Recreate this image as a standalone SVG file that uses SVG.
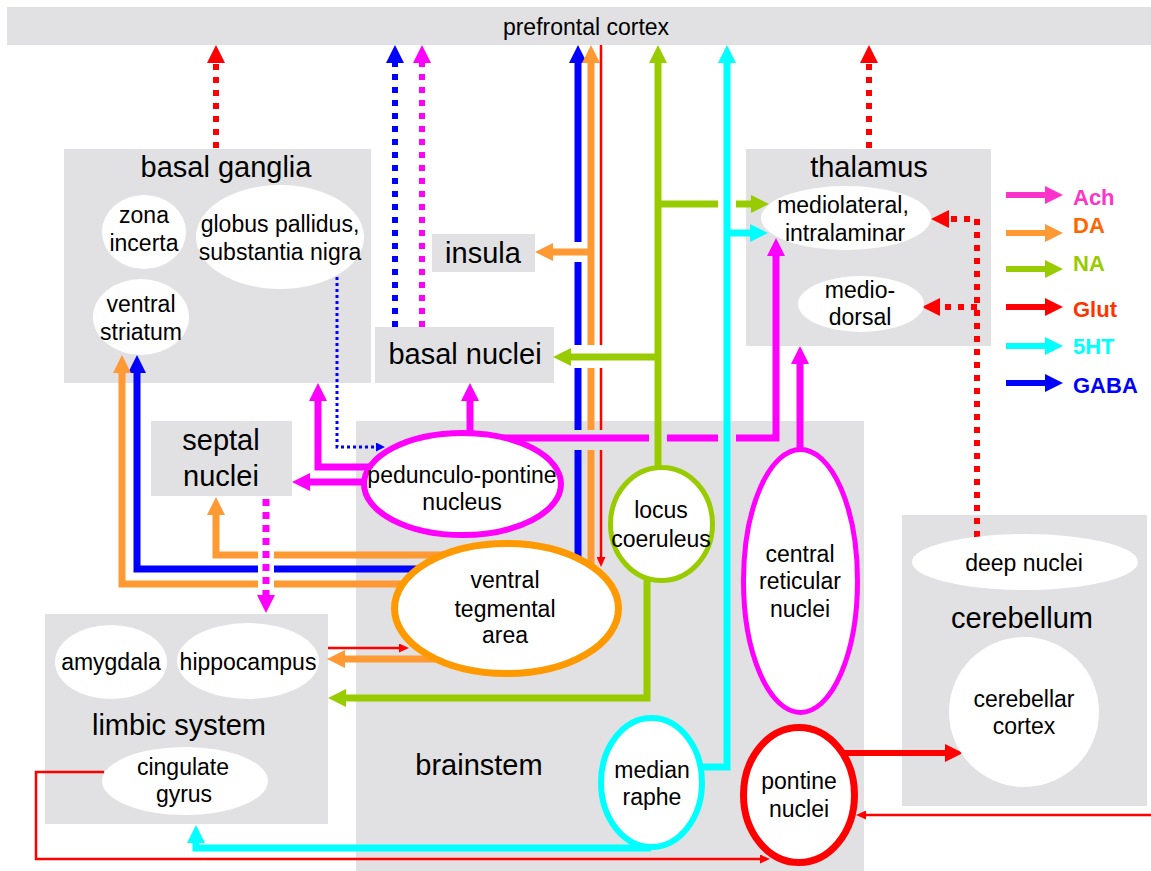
<svg xmlns="http://www.w3.org/2000/svg" width="1151" height="871" viewBox="0 0 1151 871">
<style>
.box{fill:#e1e1e3}
.wn{fill:#fff}
text{font-family:"Liberation Sans",Arial,sans-serif;font-size:23px;text-anchor:middle;fill:#000}
.T{font-size:29px}
.lg{font-weight:bold;font-size:22px;text-anchor:start}
.c{fill:none;stroke-linejoin:miter}
.k{stroke-width:7}
.th{stroke-width:2.5}
.dt{stroke-width:6;stroke-dasharray:6 7}
.m{stroke:#ff00ff}.o{stroke:#ff9933}.g{stroke:#99cc00}.r{stroke:#ff0000}.cy{stroke:#00ffff}.b{stroke:#0000ff}
</style>
<defs>
<marker id="aM" viewBox="0 0 18 18" refX="0" refY="9" markerWidth="18" markerHeight="18" orient="auto" markerUnits="userSpaceOnUse"><path d="M0,0 L18,9 L0,18z" fill="#ff00ff"/></marker>
<marker id="aO" viewBox="0 0 18 18" refX="0" refY="9" markerWidth="18" markerHeight="18" orient="auto" markerUnits="userSpaceOnUse"><path d="M0,0 L18,9 L0,18z" fill="#ff9933"/></marker>
<marker id="aG" viewBox="0 0 18 18" refX="0" refY="9" markerWidth="18" markerHeight="18" orient="auto" markerUnits="userSpaceOnUse"><path d="M0,0 L18,9 L0,18z" fill="#99cc00"/></marker>
<marker id="aR" viewBox="0 0 18 18" refX="0" refY="9" markerWidth="18" markerHeight="18" orient="auto" markerUnits="userSpaceOnUse"><path d="M0,0 L18,9 L0,18z" fill="#ff0000"/></marker>
<marker id="aC" viewBox="0 0 18 18" refX="0" refY="9" markerWidth="18" markerHeight="18" orient="auto" markerUnits="userSpaceOnUse"><path d="M0,0 L18,9 L0,18z" fill="#00ffff"/></marker>
<marker id="aB" viewBox="0 0 18 18" refX="0" refY="9" markerWidth="18" markerHeight="18" orient="auto" markerUnits="userSpaceOnUse"><path d="M0,0 L18,9 L0,18z" fill="#0000ff"/></marker>
<marker id="aP" viewBox="0 0 18 18" refX="0" refY="9" markerWidth="18" markerHeight="18" orient="auto" markerUnits="userSpaceOnUse"><path d="M0,0 L18,9 L0,18z" fill="#ff33cc"/></marker>
<marker id="sR" viewBox="0 0 10 9" refX="0" refY="4.5" markerWidth="10" markerHeight="9" orient="auto" markerUnits="userSpaceOnUse"><path d="M0,0 L10,4.5 L0,9z" fill="#ff0000"/></marker>
<marker id="sB" viewBox="0 0 9 9" refX="0" refY="4.5" markerWidth="9" markerHeight="9" orient="auto" markerUnits="userSpaceOnUse"><path d="M0,0 L9,4.5 L0,9z" fill="#0000ff"/></marker>
</defs>
<rect width="1151" height="871" fill="#fff"/>

<g id="prefrontal-cortex"><rect class="box" x="7" y="7" width="1144" height="38"/><text x="586" y="35">prefrontal cortex</text></g>
<g id="basal-ganglia"><rect class="box" x="64" y="149" width="307" height="234"/><text class="T" x="226" y="177">basal ganglia</text></g>
<g id="insula"><rect class="box" x="432" y="234" width="103" height="38"/><text class="T" x="483" y="263">insula</text></g>
<g id="basal-nuclei"><rect class="box" x="375" y="327" width="179" height="56"/><text class="T" x="465" y="364">basal nuclei</text></g>
<g id="thalamus"><rect class="box" x="746" y="149" width="245" height="197"/><text class="T" x="869" y="177">thalamus</text></g>
<g id="septal-nuclei"><rect class="box" x="151" y="421" width="141" height="75"/><text class="T" x="221" y="450">septal</text><text class="T" x="221" y="486">nuclei</text></g>
<g id="limbic-system"><rect class="box" x="45" y="614" width="283" height="210"/><text class="T" x="179" y="735">limbic system</text></g>
<g id="brainstem"><rect class="box" x="356" y="421" width="508" height="450"/><text class="T" x="479" y="775">brainstem</text></g>
<g id="cerebellum"><rect class="box" x="902" y="515" width="245" height="291"/><text class="T" x="1022" y="628">cerebellum</text></g>

<g id="connectors">
<!-- Glut dotted -->
<path class="c dt r" d="M216,148 L216,63" marker-end="url(#aR)"/>
<path class="c dt r" d="M869,148 L869,63" marker-end="url(#aR)"/>
<path class="c dt r" d="M977,537 L977,219 L949,219" marker-end="url(#aR)"/>
<path class="c dt r" d="M977,307 L940,307" marker-end="url(#aR)"/>
<!-- basal nuclei to PFC dotted -->
<path class="c dt b" d="M395,327 L395,63" marker-end="url(#aB)"/>
<path class="c dt m" d="M422,327 L422,63" marker-end="url(#aM)"/>
<!-- GP to PPN thin dotted -->
<path class="c b" stroke-width="3" stroke-dasharray="3 3" d="M337,277 L337,447 L376,447" marker-end="url(#sB)"/>
<!-- GABA from VTA -->
<path class="c k b" d="M578,450 L578,569 L137,569 L137,373" marker-end="url(#aB)"/>
<path class="c k b" d="M578,430 L578,368"/>
<path class="c k b" d="M578,345 L578,262"/>
<path class="c k b" d="M578,242 L578,63" marker-end="url(#aB)"/>
<!-- DA from VTA -->
<path class="c k o" d="M500,584 L122,584 L122,373" marker-end="url(#aO)"/>
<path class="c k o" d="M470,555 L216,555 L216,515" marker-end="url(#aO)"/>
<path class="c k o" d="M591,575 L591,450"/>
<path class="c k o" d="M591,430 L591,368"/>
<path class="c k o" d="M591,345 L591,63" marker-end="url(#aO)"/>
<path class="c k o" d="M591,252 L553,252" marker-end="url(#aO)"/>
<path class="c k o" d="M450,659 L345,659" marker-end="url(#aO)"/>
<!-- thin Glut -->
<path class="c th r" d="M601,45 L601,345"/>
<path class="c th r" d="M601,368 L601,430"/>
<path class="c th r" d="M601,450 L601,557" marker-end="url(#sR)"/>
<path class="c th r" d="M328,648 L399,648" marker-end="url(#sR)"/>
<path class="c th r" d="M104,772 L36,772 L36,859 L760,859" marker-end="url(#sR)"/>
<path class="c th r" d="M1151,815 L866,815" marker-end="url(#sR)"/>
<path class="c r" stroke-width="6" d="M842,753 L945,753" marker-end="url(#aR)"/>
<!-- NA from locus coeruleus -->
<path class="c k g" d="M658,470 L658,63" marker-end="url(#aG)"/>
<path class="c k g" d="M658,204 L718,204"/>
<path class="c k g" d="M736,204 L751,204" marker-end="url(#aG)"/>
<path class="c k g" d="M658,357 L571,357" marker-end="url(#aG)"/>
<path class="c k g" d="M647,578 L647,698 L346,698" marker-end="url(#aG)"/>
<!-- 5HT from median raphe -->
<path class="c k cy" d="M690,767 L727,767 L727,63" marker-end="url(#aC)"/>
<path class="c k cy" d="M727,233 L750,233" marker-end="url(#aC)"/>
<path class="c k cy" d="M651,848 L196,848 L196,843" marker-end="url(#aC)"/>
<!-- Ach from PPN / reticular -->
<path class="c k m" d="M470,440 L470,401" marker-end="url(#aM)"/>
<path class="c k m" d="M370,482 L310,482" marker-end="url(#aM)"/>
<path class="c k m" d="M375,467 L318,467 L318,401" marker-end="url(#aM)"/>
<path class="c k m" d="M490,438 L649,438"/>
<path class="c k m" d="M667,438 L718,438"/>
<path class="c k m" d="M736,438 L776,438 L776,256" marker-end="url(#aM)"/>
<path class="c k m" d="M800,452 L800,364" marker-end="url(#aM)"/>
<path class="c" stroke="#fff" stroke-width="16" d="M266,499 L266,594"/>
<path class="c m" stroke-width="7" stroke-dasharray="7 6" d="M266,499 L266,595" marker-end="url(#aM)"/>
</g>

<g id="zona-incerta"><ellipse class="wn" cx="144" cy="232" rx="42" ry="37"/><text x="144" y="223">zona</text><text x="144" y="251">incerta</text></g>
<g id="globus-pallidus"><ellipse class="wn" cx="280" cy="237" rx="84" ry="52"/><text x="280" y="232">globus pallidus,</text><text x="280" y="260">substantia nigra</text></g>
<g id="ventral-striatum"><ellipse class="wn" cx="141" cy="317" rx="48" ry="38"/><text x="141" y="312">ventral</text><text x="141" y="340">striatum</text></g>
<g id="mediolateral"><ellipse class="wn" cx="846" cy="218" rx="85" ry="32"/><text x="843" y="213">mediolateral,</text><text x="845" y="241">intralaminar</text></g>
<g id="mediodorsal"><ellipse class="wn" cx="861" cy="304" rx="63" ry="28"/><text x="860" y="298">medio-</text><text x="860" y="325">dorsal</text></g>
<g id="amygdala"><ellipse class="wn" cx="111" cy="662" rx="56" ry="37"/><text x="111" y="670">amygdala</text></g>
<g id="hippocampus"><ellipse class="wn" cx="248" cy="661" rx="71" ry="38"/><text x="248" y="670">hippocampus</text></g>
<g id="cingulate-gyrus"><ellipse class="wn" cx="185" cy="781" rx="83" ry="34"/><text x="183" y="775">cingulate</text><text x="184" y="802">gyrus</text></g>
<g id="deep-nuclei"><ellipse class="wn" cx="1025" cy="562" rx="113" ry="28"/><text x="1024" y="571">deep nuclei</text></g>
<g id="cerebellar-cortex"><circle class="wn" cx="1024" cy="712" r="75"/><text x="1024" y="707">cerebellar</text><text x="1024" y="734">cortex</text></g>

<g id="pedunculo-pontine"><ellipse class="wn" cx="462.5" cy="484" rx="98.5" ry="51" stroke="#ff00ff" stroke-width="6"/><text x="462" y="483">pedunculo-pontine</text><text x="462" y="510">nucleus</text></g>
<g id="ventral-tegmental-area"><ellipse class="wn" cx="506.5" cy="608.5" rx="112" ry="65" stroke="#ff9900" stroke-width="7"/><text x="505" y="588">ventral</text><text x="505" y="617">tegmental</text><text x="505" y="643">area</text></g>
<g id="locus-coeruleus"><ellipse class="wn" cx="661.5" cy="524" rx="51" ry="56.5" stroke="#99cc00" stroke-width="5"/><text x="661" y="518">locus</text><text x="661" y="547">coeruleus</text></g>
<g id="central-reticular"><ellipse class="wn" cx="800.5" cy="581" rx="57" ry="131.5" stroke="#ff00ff" stroke-width="5"/><text x="800" y="562">central</text><text x="800" y="589">reticular</text><text x="800" y="617">nuclei</text></g>
<g id="median-raphe"><ellipse class="wn" cx="651.5" cy="782.5" rx="50.5" ry="64.5" stroke="#00ffff" stroke-width="6"/><text x="652" y="778">median</text><text x="652" y="805">raphe</text></g>
<g id="pontine-nuclei"><ellipse class="wn" cx="799" cy="795" rx="55.5" ry="67.5" stroke="#ff0000" stroke-width="7"/><text x="799" y="789">pontine</text><text x="799" y="817">nuclei</text></g>

<g id="legend">
<path class="c" stroke="#ff33cc" stroke-width="6" d="M1006,195 L1045,195" marker-end="url(#aP)"/>
<path class="c o" stroke-width="6" d="M1006,233 L1045,233" marker-end="url(#aO)"/>
<path class="c g" stroke-width="6" d="M1006,269 L1045,269" marker-end="url(#aG)"/>
<path class="c r" stroke-width="6" d="M1006,307 L1045,307" marker-end="url(#aR)"/>
<path class="c cy" stroke-width="6" d="M1006,346 L1045,346" marker-end="url(#aC)"/>
<path class="c b" stroke-width="6" d="M1006,383 L1045,383" marker-end="url(#aB)"/>
<text class="lg" x="1073" y="205" fill="#ff33cc" style="fill:#ff33cc">Ach</text>
<text class="lg" x="1073" y="233" style="fill:#ff6600">DA</text>
<text class="lg" x="1073" y="271" style="fill:#99cc00">NA</text>
<text class="lg" x="1073" y="317" style="fill:#ff3300">Glut</text>
<text class="lg" x="1073" y="354" style="fill:#00ffff">5HT</text>
<text class="lg" x="1073" y="393" style="fill:#0000ff">GABA</text>
</g>
</svg>
